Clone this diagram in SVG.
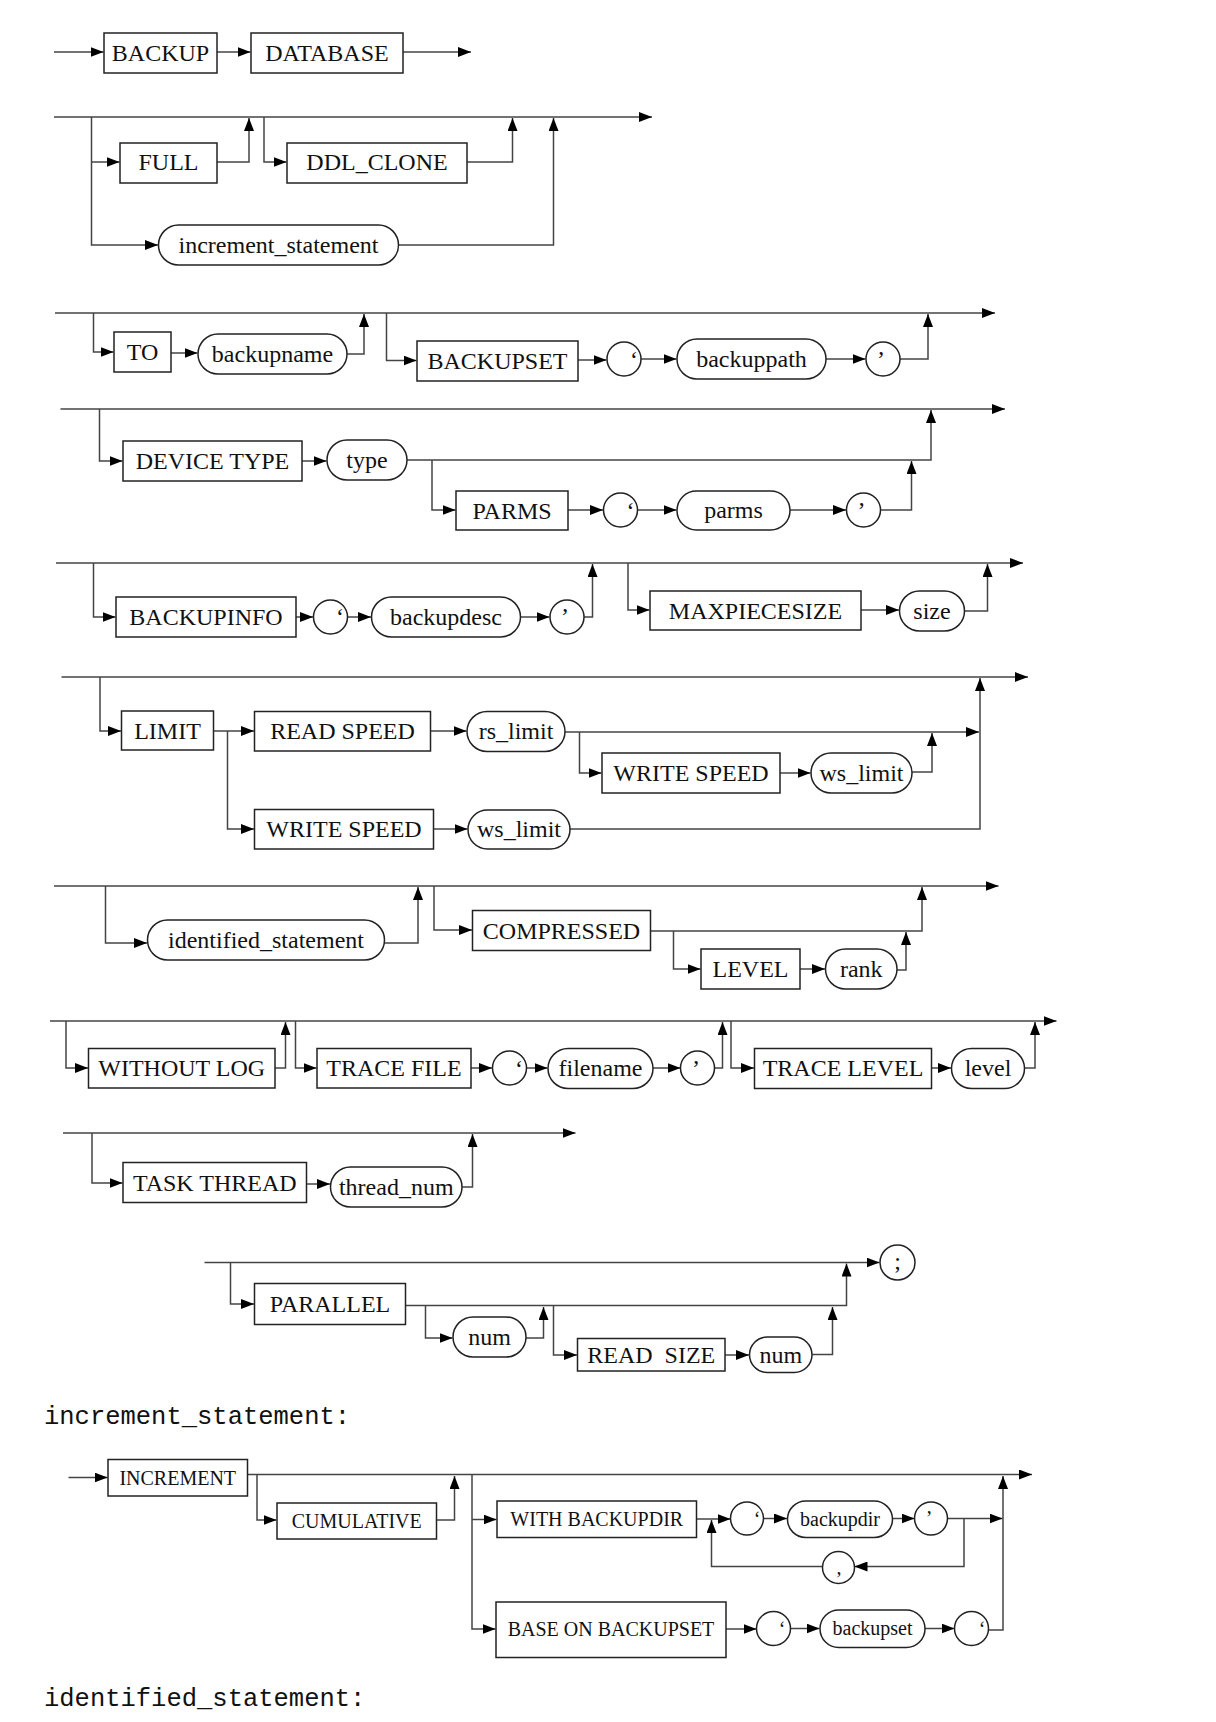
<svg xmlns="http://www.w3.org/2000/svg" width="1216" height="1722" viewBox="0 0 1216 1722">
<style>
.bx{fill:#fff;stroke:#222;stroke-width:1.5}
.ln{fill:none;stroke:#444;stroke-width:1.5}
.ar{marker-end:url(#ah)}
.t{font-family:"Liberation Serif","Times New Roman",serif;font-size:24px;fill:#111;text-anchor:middle;white-space:pre}
.s{font-family:"Liberation Serif","Times New Roman",serif;font-size:20px;fill:#111;text-anchor:middle;white-space:pre}
.m{font-family:"Liberation Mono","Courier New",monospace;font-size:25.5px;fill:#111}
</style>
<defs>
<marker id="ah" markerUnits="userSpaceOnUse" markerWidth="13" markerHeight="10" refX="13" refY="5" orient="auto">
<path d="M0,0 L13,5 L0,10 z" fill="#000"/>
</marker>
</defs>
<rect width="1216" height="1722" fill="#fff"/>

<g id="connectors">
<!-- section 1 -->
<path class="ln ar" d="M54,52 H103.5"/>
<path class="ln ar" d="M217,52 H250.5"/>
<path class="ln ar" d="M403,52 H471"/>
<!-- section 2 -->
<path class="ln ar" d="M54,117 H652"/>
<path class="ln ar" d="M91.5,117 V245 H158"/>
<path class="ln ar" d="M91.5,162 H119.5"/>
<path class="ln ar" d="M217,162 H249 V118"/>
<path class="ln ar" d="M264,117 V162 H286.5"/>
<path class="ln ar" d="M467,162 H512.5 V118"/>
<path class="ln ar" d="M398.5,245 H553.5 V118"/>
<!-- section 3 -->
<path class="ln ar" d="M55,313 H995"/>
<path class="ln ar" d="M93.5,313 V352 H113.5"/>
<path class="ln ar" d="M171,353 H197.5"/>
<path class="ln ar" d="M347,354 H364 V314"/>
<path class="ln ar" d="M386.5,313 V360.5 H416.5"/>
<path class="ln ar" d="M578,360 H606.5"/>
<path class="ln ar" d="M641,359 H676.5"/>
<path class="ln ar" d="M826,359 H865.5"/>
<path class="ln ar" d="M900,359 H928 V314"/>
<!-- section 4 -->
<path class="ln ar" d="M60.5,409 H1005"/>
<path class="ln ar" d="M99.5,409 V461 H122.5"/>
<path class="ln ar" d="M302,461 H326.5"/>
<path class="ln ar" d="M407,460 H931 V410"/>
<path class="ln ar" d="M432,460 V510 H455.5"/>
<path class="ln ar" d="M568,510 H603"/>
<path class="ln ar" d="M637.5,510 H676.5"/>
<path class="ln ar" d="M790,510 H846"/>
<path class="ln ar" d="M880.5,510 H911.5 V461"/>
<!-- section 5 -->
<path class="ln ar" d="M56,563 H1023"/>
<path class="ln ar" d="M93.5,563 V617 H115.5"/>
<path class="ln ar" d="M296,617 H313"/>
<path class="ln ar" d="M347.5,617 H371"/>
<path class="ln ar" d="M520.5,617 H549.5"/>
<path class="ln ar" d="M584,617 H592.5 V564"/>
<path class="ln ar" d="M628,563 V610 H649.5"/>
<path class="ln ar" d="M861,610 H899"/>
<path class="ln ar" d="M964.5,611 H987.5 V564"/>
<!-- section 6 -->
<path class="ln ar" d="M61.5,677 H1028"/>
<path class="ln ar" d="M100,677 V731 H121"/>
<path class="ln ar" d="M213.5,731 H254"/>
<path class="ln ar" d="M227.5,731 V829 H254"/>
<path class="ln ar" d="M430.5,731 H466.5"/>
<path class="ln ar" d="M565,732 H979"/>
<path class="ln ar" d="M579.5,732 V773 H601.5"/>
<path class="ln ar" d="M780,773 H810.5"/>
<path class="ln ar" d="M912,772 H932 V733"/>
<path class="ln ar" d="M433.5,829 H467.5"/>
<path class="ln ar" d="M570,829 H980 V678"/>
<!-- section 7 -->
<path class="ln ar" d="M54,886 H998.5"/>
<path class="ln ar" d="M105.5,886 V943 H147"/>
<path class="ln ar" d="M384.5,943 H418 V887"/>
<path class="ln ar" d="M434,886 V930 H472"/>
<path class="ln ar" d="M650.5,931 H922 V887"/>
<path class="ln ar" d="M673.5,931 V969 H700.5"/>
<path class="ln ar" d="M800,969 H825"/>
<path class="ln ar" d="M897,970 H906 V932"/>
<!-- section 8 -->
<path class="ln ar" d="M50,1021 H1056.5"/>
<path class="ln ar" d="M66,1021 V1068 H88"/>
<path class="ln ar" d="M275,1068 H285.5 V1022"/>
<path class="ln ar" d="M295.5,1021 V1068 H316.5"/>
<path class="ln ar" d="M471,1068 H492"/>
<path class="ln ar" d="M526.5,1068 H547.5"/>
<path class="ln ar" d="M653,1068 H680.5"/>
<path class="ln ar" d="M714.5,1068 H722.5 V1022"/>
<path class="ln ar" d="M731,1021 V1068 H754"/>
<path class="ln ar" d="M931.5,1068 H951"/>
<path class="ln ar" d="M1024.5,1068 H1035 V1022"/>
<!-- section 9 -->
<path class="ln ar" d="M63,1133 H575.5"/>
<path class="ln ar" d="M92,1133 V1183 H122.5"/>
<path class="ln ar" d="M306.5,1184 H330"/>
<path class="ln ar" d="M462,1187 H472.5 V1134"/>
<!-- section 10 -->
<path class="ln ar" d="M204.5,1262.5 H879.5"/>
<path class="ln ar" d="M230.5,1262.5 V1304 H254"/>
<path class="ln ar" d="M405.5,1305.5 H846.5 V1263.5"/>
<path class="ln ar" d="M425.5,1305.5 V1338 H452.5"/>
<path class="ln ar" d="M526,1338 H543.5 V1307"/>
<path class="ln ar" d="M553.5,1305.5 V1355 H577"/>
<path class="ln ar" d="M725,1355 H749"/>
<path class="ln ar" d="M812,1354.5 H832.5 V1307"/>
<!-- section 11 -->
<path class="ln ar" d="M68.5,1477.5 H107.5"/>
<path class="ln ar" d="M247.5,1474.5 H1032"/>
<path class="ln ar" d="M257,1474.5 V1520 H276.5"/>
<path class="ln ar" d="M436.5,1520 H454.5 V1476"/>
<path class="ln ar" d="M472,1474.5 V1629 H495.5"/>
<path class="ln ar" d="M472,1519.5 H496.5"/>
<path class="ln ar" d="M696.5,1519 H730.5"/>
<path class="ln ar" d="M763.5,1518.5 H787"/>
<path class="ln ar" d="M892.5,1518.5 H914.5"/>
<path class="ln ar" d="M947.5,1518.5 H1002.5"/>
<path class="ln ar" d="M964,1518.5 V1566.5 H854.5"/>
<path class="ln ar" d="M822.5,1566.5 H711.5 V1520"/>
<path class="ln ar" d="M726,1629 H756.5"/>
<path class="ln ar" d="M790.5,1628.5 H819.5"/>
<path class="ln ar" d="M925,1628.5 H954.5"/>
<path class="ln ar" d="M988.5,1630 H1003 V1476"/>
</g>

<!-- section 1 -->
<g id="n-backup"><rect class="bx" x="104" y="33" width="113" height="40"/><text class="t" x="160.5" y="61">BACKUP</text></g>
<g id="n-database"><rect class="bx" x="251" y="33" width="152" height="40"/><text class="t" x="327" y="61">DATABASE</text></g>
<!-- section 2 -->
<g id="n-full"><rect class="bx" x="120" y="143" width="97" height="40"/><text class="t" x="168.5" y="170">FULL</text></g>
<g id="n-ddlclone"><rect class="bx" x="287" y="143" width="180" height="40"/><text class="t" x="377" y="170">DDL_CLONE</text></g>
<g id="n-increment-statement"><rect class="bx" x="158.5" y="225" width="240" height="40" rx="20"/><text class="t" x="278.5" y="253">increment_statement</text></g>
<!-- section 3 -->
<g id="n-to"><rect class="bx" x="114" y="332" width="57" height="40"/><text class="t" x="142.5" y="360">TO</text></g>
<g id="n-backupname"><rect class="bx" x="198" y="334" width="149" height="40" rx="20"/><text class="t" x="272.5" y="362">backupname</text></g>
<g id="n-backupset"><rect class="bx" x="417" y="341" width="161" height="40"/><text class="t" x="497.5" y="369">BACKUPSET</text></g>
<g id="n-q1"><circle class="bx" cx="624" cy="359" r="17"/><text class="t" x="634" y="368">‘</text></g>
<g id="n-backuppath"><rect class="bx" x="677" y="339" width="149" height="40" rx="20"/><text class="t" x="751.5" y="367">backuppath</text></g>
<g id="n-q2"><circle class="bx" cx="883" cy="359" r="17"/><text class="t" x="881" y="367">’</text></g>
<!-- section 4 -->
<g id="n-devicetype"><rect class="bx" x="123" y="441" width="179" height="40"/><text class="t" x="212.5" y="469">DEVICE TYPE</text></g>
<g id="n-type"><rect class="bx" x="327" y="440" width="80" height="40" rx="20"/><text class="t" x="367" y="468">type</text></g>
<g id="n-parms-kw"><rect class="bx" x="456" y="491" width="112" height="39"/><text class="t" x="512" y="518.5">PARMS</text></g>
<g id="n-q3"><circle class="bx" cx="620.5" cy="510" r="17"/><text class="t" x="630.5" y="519">‘</text></g>
<g id="n-parms"><rect class="bx" x="677" y="491" width="113" height="39" rx="19.5"/><text class="t" x="733.5" y="518">parms</text></g>
<g id="n-q4"><circle class="bx" cx="863.5" cy="510" r="17"/><text class="t" x="861.5" y="518">’</text></g>
<!-- section 5 -->
<g id="n-backupinfo"><rect class="bx" x="116" y="597" width="180" height="40"/><text class="t" x="206" y="625">BACKUPINFO</text></g>
<g id="n-q5"><circle class="bx" cx="330.5" cy="617" r="17"/><text class="t" x="340" y="625">‘</text></g>
<g id="n-backupdesc"><rect class="bx" x="371.5" y="597" width="149" height="40" rx="20"/><text class="t" x="446" y="625">backupdesc</text></g>
<g id="n-q6"><circle class="bx" cx="567" cy="617" r="17"/><text class="t" x="565" y="624">’</text></g>
<g id="n-maxpiecesize"><rect class="bx" x="650" y="591" width="211" height="39"/><text class="t" x="755.5" y="618.5">MAXPIECESIZE</text></g>
<g id="n-size"><rect class="bx" x="899.5" y="591" width="65" height="40" rx="20"/><text class="t" x="932" y="619">size</text></g>
<!-- section 6 -->
<g id="n-limit"><rect class="bx" x="121.5" y="711" width="92" height="39"/><text class="t" x="167.5" y="738.5">LIMIT</text></g>
<g id="n-readspeed"><rect class="bx" x="254.5" y="711.5" width="176" height="39.5"/><text class="t" x="342.5" y="739">READ SPEED</text></g>
<g id="n-rslimit"><rect class="bx" x="467" y="711.5" width="98" height="40" rx="20"/><text class="t" x="516" y="739">rs_limit</text></g>
<g id="n-writespeed1"><rect class="bx" x="602" y="753" width="178" height="40"/><text class="t" x="691" y="781">WRITE SPEED</text></g>
<g id="n-wslimit1"><rect class="bx" x="811" y="753" width="101" height="40" rx="20"/><text class="t" x="861.5" y="781">ws_limit</text></g>
<g id="n-writespeed2"><rect class="bx" x="254.5" y="809.5" width="179" height="39.5"/><text class="t" x="344" y="837">WRITE SPEED</text></g>
<g id="n-wslimit2"><rect class="bx" x="468" y="810" width="102" height="39" rx="19.5"/><text class="t" x="519" y="837">ws_limit</text></g>
<!-- section 7 -->
<g id="n-identified-statement"><rect class="bx" x="147.5" y="920" width="237" height="40" rx="20"/><text class="t" x="266" y="948">identified_statement</text></g>
<g id="n-compressed"><rect class="bx" x="472.5" y="910.5" width="178" height="40"/><text class="t" x="561.5" y="938.5">COMPRESSED</text></g>
<g id="n-level-kw"><rect class="bx" x="701" y="949" width="99" height="40"/><text class="t" x="750.5" y="977">LEVEL</text></g>
<g id="n-rank"><rect class="bx" x="825.5" y="949" width="71.5" height="40" rx="20"/><text class="t" x="861.25" y="977">rank</text></g>
<!-- section 8 -->
<g id="n-withoutlog"><rect class="bx" x="88.5" y="1048.5" width="186.5" height="39.5"/><text class="t" x="181.75" y="1076">WITHOUT LOG</text></g>
<g id="n-tracefile"><rect class="bx" x="317" y="1048.5" width="154" height="39.5"/><text class="t" x="394" y="1076">TRACE FILE</text></g>
<g id="n-q7"><circle class="bx" cx="509.5" cy="1068" r="17"/><text class="t" x="519" y="1077">‘</text></g>
<g id="n-filename"><rect class="bx" x="548" y="1048.5" width="105" height="40" rx="20"/><text class="t" x="600.5" y="1076">filename</text></g>
<g id="n-q8"><circle class="bx" cx="697.5" cy="1068" r="17"/><text class="t" x="696" y="1076">’</text></g>
<g id="n-tracelevel"><rect class="bx" x="754.5" y="1048.5" width="177" height="40"/><text class="t" x="843" y="1076">TRACE LEVEL</text></g>
<g id="n-level"><rect class="bx" x="951.5" y="1048.5" width="73" height="40" rx="20"/><text class="t" x="988" y="1076">level</text></g>
<!-- section 9 -->
<g id="n-taskthread"><rect class="bx" x="123" y="1162.5" width="183.5" height="40"/><text class="t" x="214.75" y="1190.5">TASK THREAD</text></g>
<g id="n-threadnum"><rect class="bx" x="330.5" y="1167" width="131.5" height="40" rx="20"/><text class="t" x="396.25" y="1195">thread_num</text></g>
<!-- section 10 -->
<g id="n-parallel"><rect class="bx" x="254.5" y="1283.5" width="151" height="41"/><text class="t" x="330" y="1312">PARALLEL</text></g>
<g id="n-num1"><rect class="bx" x="453" y="1317" width="73" height="40" rx="20"/><text class="t" x="489.5" y="1345">num</text></g>
<g id="n-readsize"><rect class="bx" x="577.5" y="1338.5" width="147.5" height="32.5"/><text class="t" x="651.25" y="1363">READ  SIZE</text></g>
<g id="n-num2"><rect class="bx" x="749.5" y="1337" width="62.5" height="35.5" rx="17.75"/><text class="t" x="780.75" y="1363">num</text></g>
<g id="n-semicolon"><circle class="bx" cx="897.5" cy="1262.5" r="17.5"/><text class="t" x="897.5" y="1269">;</text></g>
<!-- labels -->
<text class="m" x="44" y="1424">increment_statement:</text>
<!-- section 11 -->
<g id="n-increment"><rect class="bx" x="108" y="1459.5" width="139.5" height="36.5"/><text class="s" x="177.75" y="1484.5">INCREMENT</text></g>
<g id="n-cumulative"><rect class="bx" x="277" y="1503" width="159.5" height="36"/><text class="s" x="356.75" y="1528">CUMULATIVE</text></g>
<g id="n-withbackupdir"><rect class="bx" x="497" y="1501" width="199.5" height="36.5"/><text class="s" x="596.75" y="1526">WITH BACKUPDIR</text></g>
<g id="n-q9"><circle class="bx" cx="747" cy="1518.5" r="16.5"/><text class="s" x="757" y="1526">‘</text></g>
<g id="n-backupdir"><rect class="bx" x="787.5" y="1501" width="105" height="36.5" rx="18.25"/><text class="s" x="840" y="1526">backupdir</text></g>
<g id="n-q10"><circle class="bx" cx="931" cy="1518.5" r="16.5"/><text class="s" x="929" y="1525">’</text></g>
<g id="n-comma"><circle class="bx" cx="838.5" cy="1567.5" r="16"/><text class="s" x="839" y="1574">,</text></g>
<g id="n-baseonbackupset"><rect class="bx" x="496" y="1602" width="230" height="55.5"/><text class="s" x="611" y="1636">BASE ON BACKUPSET</text></g>
<g id="n-q11"><circle class="bx" cx="773.5" cy="1628.5" r="17"/><text class="s" x="782" y="1636">‘</text></g>
<g id="n-backupset-id"><rect class="bx" x="820" y="1610" width="105" height="37.5" rx="18.75"/><text class="s" x="872.5" y="1635">backupset</text></g>
<g id="n-q12"><circle class="bx" cx="971.5" cy="1628.5" r="17"/><text class="s" x="982" y="1636">‘</text></g>
<text class="m" x="44" y="1706">identified_statement:</text>
</svg>
